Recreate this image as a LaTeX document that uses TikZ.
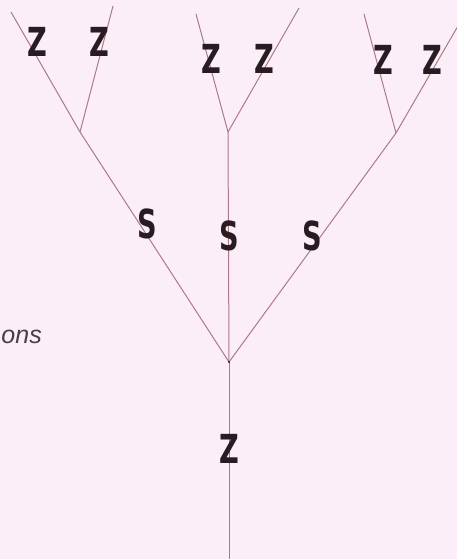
\documentclass[tikz,border=0pt]{standalone}
\usepackage{fontspec}
\newfontfamily\labfont[FakeStretch=0.68]{DejaVu Sans Bold}
\newfontfamily\txtfont{Liberation Sans}
\definecolor{bgpink}{RGB}{252,238,248}
\definecolor{branch}{RGB}{172,122,132}
\definecolor{ink}{RGB}{40,28,34}
\begin{document}
\begin{tikzpicture}[x=1pt,y=-1pt,
  lab/.style={inner sep=0pt,text=ink,font=\labfont\fontsize{40}{40}\selectfont},
  edge/.style={draw=branch,line width=1pt}]
\fill[bgpink] (0,0) rectangle (457,559);
\useasboundingbox (0,0) rectangle (457,559);
\clip (0,0) rectangle (457,559);
% junctions and ends
\coordinate (root) at (229,559);
\coordinate (J) at (229,362);
\coordinate (L) at (80,132);
\coordinate (M) at (228,132);
\coordinate (R) at (396,133);
\coordinate (L1) at (11,12);
\coordinate (L2) at (113,6);
\coordinate (M1) at (196,14);
\coordinate (M2) at (299,8);
\coordinate (R1) at (364,14);
\coordinate (R2) at (473,0);
% connectors
\draw[edge] (root) -- (J);
\draw[edge] (J) -- (L);
\draw[edge] (J) -- (M);
\draw[edge] (J) -- (R);
\draw[edge] (L) -- (L1);
\draw[edge] (L) -- (L2);
\draw[edge] (M) -- (M1);
\draw[edge] (M) -- (M2);
\draw[edge] (R) -- (R1);
\draw[edge] (R) -- (R2);
\fill[ink] (J) circle (1.2pt);
% labels
\node[lab] (z1) at (37,42) {Z};
\node[lab] (z2) at (99,42) {Z};
\node[lab] (z3) at (211,59) {Z};
\node[lab] (z4) at (264,59) {Z};
\node[lab] (z5) at (383,60) {Z};
\node[lab] (z6) at (432,60) {Z};
\node[lab] (s1) at (147,224) {S};
\node[lab] (s2) at (229,236) {S};
\node[lab] (s3) at (312,236) {S};
\node[lab] (z0) at (229,449) {Z};
\node[anchor=base east,inner sep=0pt,text=ink!85,font=\txtfont\itshape\fontsize{25}{25}\selectfont] (ons) at (42,343) {ons};
\end{tikzpicture}
\end{document}
